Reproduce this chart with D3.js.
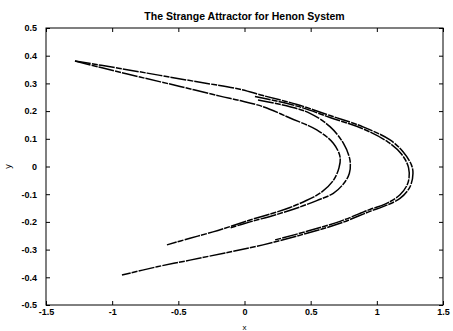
<!DOCTYPE html>
<html>
<head>
<meta charset="utf-8">
<script src="https://cdn.jsdelivr.net/npm/d3@7"></script>
<style>
  body { margin: 0; background: #fff; }
  svg { display: block; }
  text { font-family: "Liberation Sans", Arial, sans-serif; fill: #000; }
</style>
</head>
<body>
<div id="chart"></div>
<script>
// strands of the attractor as [x, y]
const outerStrand = [
  [-1.281, 0.381], [-0.941, 0.354], [-0.638, 0.329], [-0.336, 0.304], [-0.034, 0.279],
  [0.140, 0.256], [0.397, 0.224], [0.646, 0.184], [0.896, 0.143], [1.100, 0.096],
  [1.198, 0.053], [1.262, 0.005], [1.273, -0.025], [1.251, -0.073], [1.175, -0.115],
  [1.047, -0.145], [0.948, -0.162], [0.722, -0.205], [0.472, -0.241], [0.140, -0.283],
  [-0.147, -0.312], [-0.412, -0.338], [-0.661, -0.362], [-0.926, -0.392]
];
const outerStrand2 = [
  [0.079, 0.253], [0.397, 0.218], [0.646, 0.177], [0.896, 0.136], [1.085, 0.088],
  [1.186, 0.045], [1.240, -0.005], [1.236, -0.058], [1.175, -0.102], [1.062, -0.136],
  [0.948, -0.155], [0.722, -0.198], [0.472, -0.234], [0.231, -0.265]
];
const innerStrand = [
  [-1.281, 0.381], [-1.092, 0.358], [-0.790, 0.323], [-0.487, 0.289], [-0.185, 0.254],
  [-0.034, 0.238], [0.140, 0.216], [0.344, 0.175], [0.546, 0.132], [0.671, 0.084],
  [0.722, 0.035], [0.714, -0.005], [0.669, -0.052], [0.578, -0.094], [0.444, -0.128],
  [0.344, -0.148], [0.246, -0.164], [0.042, -0.193], [-0.110, -0.217], [-0.238, -0.236],
  [-0.412, -0.259], [-0.586, -0.283]
];
const innerStrand2 = [
  [0.102, 0.240], [0.344, 0.216], [0.495, 0.192], [0.646, 0.144], [0.747, 0.084],
  [0.797, 0.023], [0.792, -0.025], [0.747, -0.063], [0.671, -0.097], [0.546, -0.123],
  [0.420, -0.146], [0.231, -0.175], [0.042, -0.200], [-0.110, -0.222]
];

const xTicks = [-1.5, -1, -0.5, 0, 0.5, 1, 1.5];
const xTickLabels = ['-1.5', '-1', '-0.5', '0', '0.5', '1', '1.5'];
const yTicks = [0.5, 0.4, 0.3, 0.2, 0.1, 0, -0.1, -0.2, -0.3, -0.4, -0.5];
const yTickLabels = ['0.5', '0.4', '0.3', '0.2', '0.1', '0', '-0.1', '-0.2', '-0.3', '-0.4', '-0.5'];

const width = 453, height = 331;
const margin = { top: 28, right: 10, bottom: 26, left: 46 };
const plotW = width - margin.left - margin.right;
const plotH = height - margin.top - margin.bottom;

const svg = d3.select('#chart').append('svg')
  .attr('width', width)
  .attr('height', height);

svg.append('rect').attr('width', width).attr('height', height).attr('fill', '#fff');

const g = svg.append('g')
  .attr('transform', `translate(${margin.left},${margin.top})`);

const x = d3.scaleLinear().domain([-1.5, 1.5]).range([0, plotW]);
const y = d3.scaleLinear().domain([-0.5, 0.5]).range([plotH, 0]);

// attractor strands (dots of the orbit look like a broken line)
const line = d3.line()
  .x(d => x(d[0]))
  .y(d => y(d[1]))
  .curve(d3.curveCatmullRom);

[outerStrand, outerStrand2, innerStrand, innerStrand2].forEach(s => {
  g.append('path')
    .datum(s)
    .attr('fill', 'none')
    .attr('stroke', '#000')
    .attr('stroke-width', 1.5)
    .attr('stroke-dasharray', '16,1.2,6,1')
    .attr('d', line);
});

// axes, ticks pointing inward on all four sides
const fmtX = (d, i) => xTickLabels[i];
const fmtY = (d, i) => yTickLabels[i];

const styleAxis = sel => {
  sel.select('.domain').remove();
  sel.selectAll('line').attr('stroke', '#000');
  sel.selectAll('text')
    .style('font-size', '9px')
    .style('font-weight', 'bold')
    .style('font-family', '"Liberation Sans", Arial, sans-serif');
};

g.append('g')
  .attr('transform', `translate(0,${plotH})`)
  .call(d3.axisBottom(x).tickValues(xTicks).tickFormat(fmtX).tickSizeInner(-4).tickSizeOuter(0).tickPadding(4))
  .call(styleAxis);

g.append('g')
  .call(d3.axisTop(x).tickValues(xTicks).tickFormat('').tickSizeInner(-4).tickSizeOuter(0))
  .call(styleAxis);

g.append('g')
  .call(d3.axisLeft(y).tickValues(yTicks).tickFormat(fmtY).tickSizeInner(-4).tickSizeOuter(0).tickPadding(9))
  .call(styleAxis);

g.append('g')
  .attr('transform', `translate(${plotW},0)`)
  .call(d3.axisRight(y).tickValues(yTicks).tickFormat('').tickSizeInner(-4).tickSizeOuter(0))
  .call(styleAxis);

g.append('rect')
  .attr('width', plotW)
  .attr('height', plotH)
  .attr('fill', 'none')
  .attr('stroke', '#000')
  .attr('stroke-width', 1);

// title and axis labels
svg.append('text')
  .attr('x', margin.left + plotW / 2)
  .attr('y', 19.5)
  .attr('text-anchor', 'middle')
  .style('font-size', '10.5px')
  .style('font-weight', 'bold')
  .text('The Strange Attractor for Henon System');

svg.append('text')
  .attr('x', margin.left + plotW / 2)
  .attr('y', 330)
  .attr('text-anchor', 'middle')
  .style('font-size', '8px')
  .text('x');

svg.append('text')
  .attr('transform', `translate(11,${margin.top + plotH / 2}) rotate(-90)`)
  .attr('text-anchor', 'middle')
  .style('font-size', '9px')
  .text('y');
</script>
</body>
</html>
